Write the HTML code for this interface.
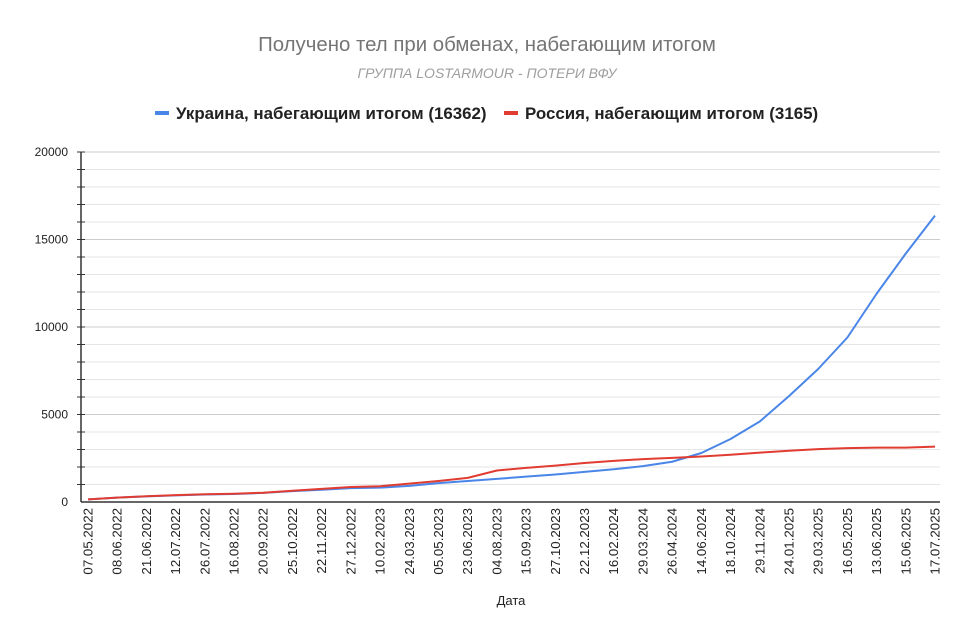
<!DOCTYPE html>
<html><head><meta charset="utf-8"><style>
body{margin:0;background:#fff;}
svg text{font-family:"Liberation Sans",Arial,sans-serif;}
</style></head><body>
<svg id="chart" width="974" height="639" xmlns="http://www.w3.org/2000/svg">
<rect width="974" height="639" fill="#fff"/>
<text x="487" y="51" text-anchor="middle" font-size="20.4" fill="#757575">Получено тел при обменах, набегающим итогом</text>
<text x="487" y="78" text-anchor="middle" font-size="14" font-style="italic" fill="#9e9e9e">ГРУППА LOSTARMOUR - ПОТЕРИ ВФУ</text>
<g>
<line x1="155" y1="113" x2="169" y2="113" stroke="#4a86e8" stroke-width="4"/>
<text x="176" y="119" font-size="16.9" font-weight="bold" fill="#222">Украина, набегающим итогом (16362)</text></g>
<g>
<line x1="504" y1="113" x2="518" y2="113" stroke="#e03c31" stroke-width="4"/>
<text x="525" y="119" font-size="16.9" font-weight="bold" fill="#222">Россия, набегающим итогом (3165)</text></g>
<g id="grid"></g>
<g id="yaxis"></g>
<g id="xaxis"></g>
<g id="series"></g>
<text x="511" y="605" text-anchor="middle" font-size="13" fill="#222">Дата</text>
</svg>
<script>
const categories=["07.05.2022","08.06.2022","21.06.2022","12.07.2022","26.07.2022","16.08.2022","20.09.2022","25.10.2022","22.11.2022","27.12.2022","10.02.2023","24.03.2023","05.05.2023","23.06.2023","04.08.2023","15.09.2023","27.10.2023","22.12.2023","16.02.2024","29.03.2024","26.04.2024","14.06.2024","18.10.2024","29.11.2024","24.01.2025","29.03.2025","16.05.2025","13.06.2025","15.06.2025","17.07.2025"];
const ukraine=[150,250,320,380,430,460,520,620,700,790,820,920,1080,1200,1320,1450,1570,1720,1870,2050,2300,2800,3600,4600,6050,7600,9400,11900,14200,16362];
const russia=[150,250,330,390,440,470,530,640,750,860,900,1050,1200,1380,1800,1950,2080,2230,2350,2450,2520,2600,2700,2820,2930,3020,3080,3110,3110,3165];
const yTicks=[0,5000,10000,15000,20000];
const NS="http://www.w3.org/2000/svg";
const L=81,R=940,T=152,B=502,yMax=20000;
const xs=i=>88+i*(935-88)/(categories.length-1);
const ys=v=>B-(v/yMax)*(B-T);
function mk(tag,attrs,parent){const e=document.createElementNS(NS,tag);for(const k in attrs)e.setAttribute(k,attrs[k]);parent.appendChild(e);return e;}
const grid=document.getElementById('grid'),ya=document.getElementById('yaxis'),xa=document.getElementById('xaxis'),se=document.getElementById('series');
for(let v=1000;v<=yMax;v+=1000){
 const major=v%5000===0;
 const g=mk('line',{x1:L,x2:R,y1:ys(v),y2:ys(v),stroke:major?'#cccccc':'#e6e6e6','stroke-width':1},grid);
 
 
 const t=mk('line',{x1:L-4,x2:L+4,y1:ys(v),y2:ys(v),stroke:'#333','stroke-width':1},ya);
 
 
}
yTicks.forEach(v=>{
 const t=mk('text',{x:L-13,y:ys(v)+4,'text-anchor':'end','font-size':12,fill:'#222'},ya);
 t.textContent=v;
 
 
});
const ax=mk('line',{x1:L,x2:L,y1:T,y2:B,stroke:'#333','stroke-width':1.5},ya);


const bx=mk('line',{x1:L,x2:R,y1:B,y2:B,stroke:'#333','stroke-width':1.5},xa);


categories.forEach((c,i)=>{
 const x=xs(i)+4.5;
 const t=mk('text',{x:x,y:508,'text-anchor':'end','font-size':13.3,fill:'#222',transform:`rotate(-90 ${x} 508)`},xa);
 t.textContent=c;
 
 
});
function line(data,color,name){
 const p=mk('polyline',{points:data.map((v,i)=>xs(i)+','+ys(v)).join(' '),fill:'none',stroke:color,'stroke-width':2,'stroke-linejoin':'round'},se);
 
 
}
line(ukraine,'#4a86e8','ukraine-line');
line(russia,'#e03c31','russia-line');
</script>
</body></html>
